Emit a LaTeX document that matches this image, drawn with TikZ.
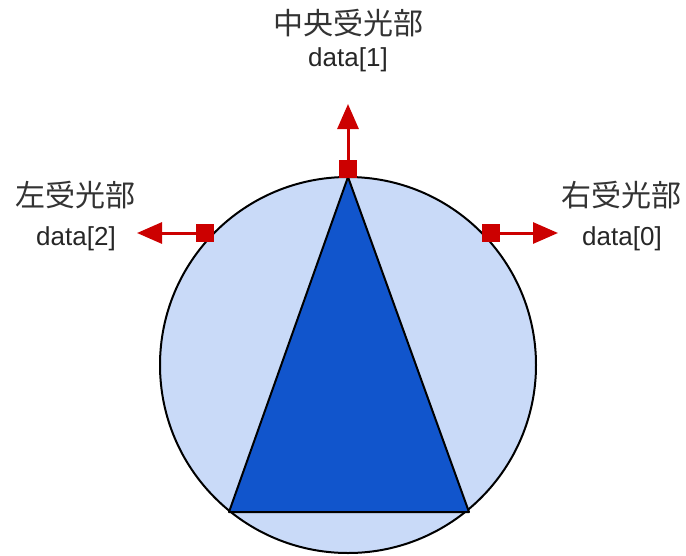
\documentclass[tikz,border=0pt]{standalone}
\usepackage{fontspec}
\setmainfont{Liberation Sans}
\newfontfamily\jpfont{Noto Sans CJK JP}
\usetikzlibrary{arrows.meta}
\definecolor{lightblue}{HTML}{C9DAF8}
\definecolor{darkblue}{HTML}{1155CC}
\definecolor{sensred}{HTML}{CC0000}
\tikzset{
  sensor/.style={fill=sensred,draw=none,minimum size=18pt,inner sep=0pt,outer sep=0pt},
  outarrow/.style={draw=sensred,line width=3pt,-{Triangle[length=25pt,width=21pt]}},
  jplabel/.style={font=\jpfont\fontsize{30}{32}\selectfont,text=black!80,inner sep=0pt},
  datalabel/.style={font=\fontsize{26}{30}\selectfont,text=black!85,inner sep=0pt}
}
\begin{document}
\begin{tikzpicture}[x=1pt,y=-1pt]
\useasboundingbox (0,0) rectangle (686,555);
\node[circle,draw=black,line width=2pt,fill=lightblue,minimum size=376pt,inner sep=0pt] (disc) at (348,365) {};
\coordinate (apex) at (348,177);
\coordinate (bl) at (229,512);
\coordinate (br) at (469,512);
\draw[fill=darkblue,draw=black,line width=2pt,line join=round] (apex) -- (bl) -- (br) -- cycle;
% sensors
\node[sensor] (sc) at (348,169) {};
\node[sensor] (sl) at (205,233) {};
\node[sensor] (sr) at (491,233) {};
\coordinate (tc) at (348,104);
\coordinate (tl) at (137,233);
\coordinate (tr) at (558,233);
\draw[outarrow] (sc.north) -- (tc);
\draw[outarrow] (sl.west) -- (tl);
\draw[outarrow] (sr.east) -- (tr);
% labels
\node[jplabel] (jc) at (348,23) {中央受光部};
\node[datalabel] (dc) at (348,60) {data[1]};
\node[jplabel] (jl) at (76,195) {左受光部};
\node[datalabel] (dl) at (76,239) {data[2]};
\node[jplabel] (jr) at (621,195) {右受光部};
\node[datalabel] (dr) at (622,239) {data[0]};
\end{tikzpicture}
\end{document}
